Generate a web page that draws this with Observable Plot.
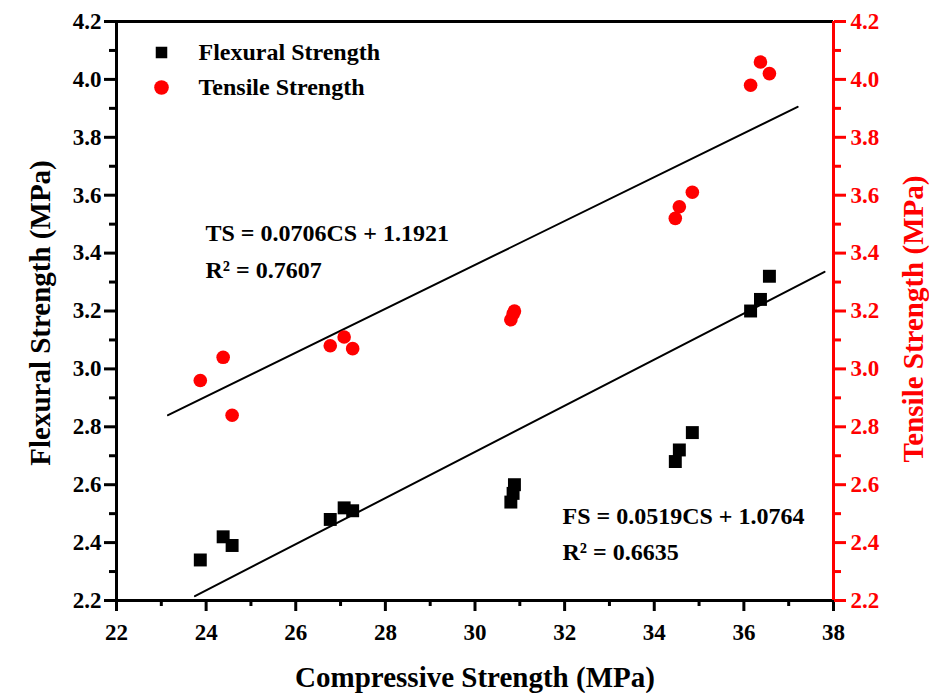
<!DOCTYPE html>
<html>
<head>
<meta charset="utf-8">
<script src="https://cdn.jsdelivr.net/npm/d3@7"></script>
<script src="https://cdn.jsdelivr.net/npm/@observablehq/plot@0.6"></script>
<style>
  html, body { margin: 0; padding: 0; background: #fff; }
  svg text { font-family: "Liberation Serif", "Times New Roman", serif; font-weight: bold; }
</style>
</head>
<body>
<div id="chart"></div>
<script>
// ---- data ----
const compressive = [23.87, 24.38, 24.58, 26.77, 27.08, 27.27, 30.8, 30.85, 30.88, 34.47, 34.56, 34.85, 36.15, 36.37, 36.57];
const flexural    = [2.34, 2.42, 2.39, 2.48, 2.52, 2.51, 2.54, 2.57, 2.60, 2.68, 2.72, 2.78, 3.20, 3.24, 3.32];
const tensile     = [2.96, 3.04, 2.84, 3.08, 3.11, 3.07, 3.17, 3.19, 3.20, 3.52, 3.56, 3.61, 3.98, 4.06, 4.02];

// fit lines as drawn in the picture (end points)
const tsFitX = [23.15, 37.2];
const tsFitY = [2.84, 3.905];
const fsFitX = [23.75, 37.8];
const fsFitY = [2.215, 3.335];

const xDomain = [22, 38];
const yDomain = [2.2, 4.2];
const xMajor = [22, 24, 26, 28, 30, 32, 34, 36, 38];
const xMinor = [23, 25, 27, 29, 31, 33, 35, 37];
const yMajor = [2.2, 2.4, 2.6, 2.8, 3.0, 3.2, 3.4, 3.6, 3.8, 4.0, 4.2];
const yMinor = [2.3, 2.5, 2.7, 2.9, 3.1, 3.3, 3.5, 3.7, 3.9, 4.1];

const seriesNames = ["Flexural Strength", "Tensile Strength"];
const eqTS = ["TS = 0.0706CS + 1.1921", "R² = 0.7607"];
const eqFS = ["FS = 0.0519CS + 1.0764", "R² = 0.6635"];
const titles = {x: "Compressive Strength (MPa)", yl: "Flexural Strength (MPa)", yr: "Tensile Strength (MPa)"};

const fsData = compressive.map((c, i) => ({cs: c, v: flexural[i]}));
const tsData = compressive.map((c, i) => ({cs: c, v: tensile[i]}));
const tsLine = tsFitX.map((c, i) => ({cs: c, v: tsFitY[i]}));
const fsLine = fsFitX.map((c, i) => ({cs: c, v: fsFitY[i]}));

const fmt = d3.format(".1f");
const T = {fontFamily: "Liberation Serif", fontWeight: "bold"};
const tickFont = 23;
const labelFont = 24;
const titleFont = 29;

const chart = Plot.plot({
  width: 929,
  height: 693,
  marginLeft: 116,
  marginRight: 96,
  marginTop: 21,
  marginBottom: 93,
  style: "font-family: 'Liberation Serif', serif; font-weight: bold; font-size: 22px; background: #fff; color: #000;",
  x: {domain: xDomain},
  y: {domain: yDomain},
  marks: [
    // left axis
    Plot.axisY({ticks: yMinor, tickSize: 7, strokeWidth: 3, tickFormat: () => "", label: null}),
    Plot.axisY({ticks: yMajor, tickSize: 12, tickPadding: 3, strokeWidth: 3, tickFormat: fmt, label: null, fontSize: tickFont, ...T}),
    // bottom axis
    Plot.axisX({ticks: xMinor, tickSize: 6, strokeWidth: 3, tickFormat: () => "", label: null}),
    Plot.axisX({ticks: xMajor, tickSize: 11, tickPadding: 12, strokeWidth: 3, label: null, fontSize: tickFont, ...T}),
    // right axis (red)
    Plot.axisY({anchor: "right", ticks: yMinor, tickSize: 7, strokeWidth: 3, color: "red", tickFormat: () => "", label: null}),
    Plot.axisY({anchor: "right", ticks: yMajor, tickSize: 12, tickPadding: 5, strokeWidth: 3, color: "red", tickFormat: fmt, label: null, fontSize: tickFont, ...T}),
    // frame lines
    Plot.ruleY([yDomain[0]], {stroke: "black", strokeWidth: 3}),
    Plot.ruleY([yDomain[1]], {stroke: "black", strokeWidth: 3}),
    Plot.ruleX([xDomain[0]], {stroke: "black", strokeWidth: 3}),
    Plot.ruleX([xDomain[1]], {stroke: "red", strokeWidth: 3}),
    // fit lines
    Plot.line(tsLine, {x: "cs", y: "v", stroke: "black", strokeWidth: 2}),
    Plot.line(fsLine, {x: "cs", y: "v", stroke: "black", strokeWidth: 2}),
    // data
    Plot.dot(fsData, {x: "cs", y: "v", symbol: "square", r: 7.3, fill: "black", stroke: "none"}),
    Plot.dot(tsData, {x: "cs", y: "v", symbol: "circle", r: 6.8, fill: "red", stroke: "none"}),
    // legend
    Plot.dot([seriesNames[0]], {frameAnchor: "top-left", dx: 45, dy: 31, symbol: "square", r: 6.5, fill: "black", stroke: "none"}),
    Plot.dot([seriesNames[1]], {frameAnchor: "top-left", dx: 45, dy: 66, symbol: "circle", r: 7.3, fill: "red", stroke: "none"}),
    Plot.text([seriesNames[0]], {frameAnchor: "top-left", dx: 82, dy: 31, text: d => d, textAnchor: "start", lineAnchor: "middle", fontSize: labelFont, ...T}),
    Plot.text([seriesNames[1]], {frameAnchor: "top-left", dx: 82, dy: 66, text: d => d, textAnchor: "start", lineAnchor: "middle", fontSize: labelFont, ...T}),
    // equations
    Plot.text([eqTS[0]], {frameAnchor: "top-left", dx: 89, dy: 212, text: d => d, textAnchor: "start", lineAnchor: "middle", fontSize: labelFont, ...T}),
    Plot.text([eqTS[1]], {frameAnchor: "top-left", dx: 89, dy: 249, text: d => d, textAnchor: "start", lineAnchor: "middle", fontSize: labelFont, ...T}),
    Plot.text([eqFS[0]], {frameAnchor: "top-left", dx: 446, dy: 495, text: d => d, textAnchor: "start", lineAnchor: "middle", fontSize: labelFont, ...T}),
    Plot.text([eqFS[1]], {frameAnchor: "top-left", dx: 446, dy: 531, text: d => d, textAnchor: "start", lineAnchor: "middle", fontSize: labelFont, ...T}),
    // axis titles
    Plot.text([titles.x], {frameAnchor: "bottom", dy: 77, text: d => d, textAnchor: "middle", lineAnchor: "middle", fontSize: titleFont, ...T}),
    Plot.text([titles.yl], {frameAnchor: "left", dx: -76, dy: 2, rotate: -90, text: d => d, textAnchor: "middle", lineAnchor: "middle", fontSize: titleFont, ...T}),
    Plot.text([titles.yr], {frameAnchor: "right", dx: 80, dy: 8, rotate: -90, text: d => d, textAnchor: "middle", lineAnchor: "middle", fontSize: titleFont, fill: "red", ...T})
  ]
});
document.getElementById("chart").appendChild(chart);
</script>
</body>
</html>
